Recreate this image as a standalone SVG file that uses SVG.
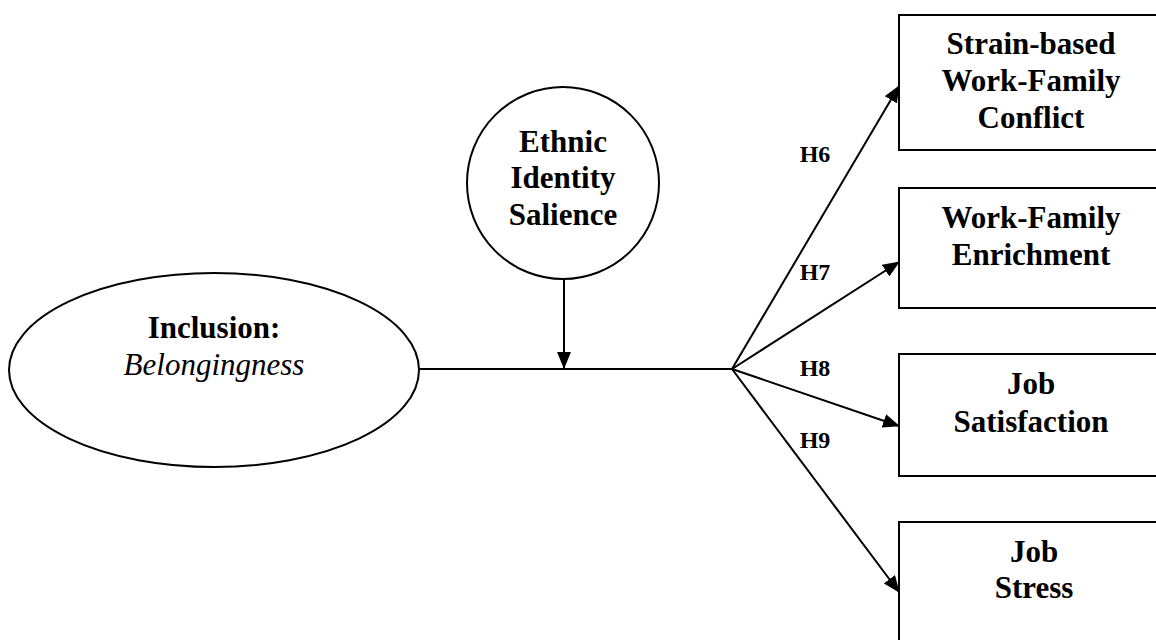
<svg xmlns="http://www.w3.org/2000/svg" width="1156" height="640" viewBox="0 0 1156 640">
<style>
.shape{fill:#fff;stroke:#000;stroke-width:2}
.conn{stroke:#000;stroke-width:2;fill:none}
.t{font-family:"Liberation Serif","Times New Roman",serif;font-weight:bold;font-size:31px;text-anchor:middle;fill:#000}
.ti{font-family:"Liberation Serif","Times New Roman",serif;font-style:italic;font-size:31px;text-anchor:middle;fill:#000}
.lbl{font-family:"Liberation Serif","Times New Roman",serif;font-weight:bold;font-size:24px;text-anchor:middle;fill:#000}
</style>
<defs>
<marker id="arr" markerWidth="17" markerHeight="14" refX="16" refY="7" orient="auto" markerUnits="userSpaceOnUse">
<path d="M0,0 L17,7 L0,14 Z" fill="#000"/>
</marker>
</defs>
<rect width="1156" height="640" fill="#fff"/>
<g id="inclusion">
<ellipse class="shape" cx="214" cy="370" rx="205" ry="97"/>
<text class="t" x="214" y="338">Inclusion:</text>
<text class="ti" x="214" y="375">Belongingness</text>
</g>
<g id="ethnic">
<circle class="shape" cx="563" cy="183" r="96"/>
<text class="t" x="563" y="152">Ethnic</text>
<text class="t" x="563" y="188">Identity</text>
<text class="t" x="563" y="225">Salience</text>
</g>
<g id="strain">
<rect class="shape" x="899" y="15" width="270" height="135"/>
<text class="t" x="1031" y="54">Strain-based</text>
<text class="t" x="1031" y="91">Work-Family</text>
<text class="t" x="1031" y="128">Conflict</text>
</g>
<g id="enrichment">
<rect class="shape" x="899" y="188" width="270" height="120"/>
<text class="t" x="1031" y="228">Work-Family</text>
<text class="t" x="1031" y="265">Enrichment</text>
</g>
<g id="satisfaction">
<rect class="shape" x="899" y="354" width="270" height="122"/>
<text class="t" x="1031" y="394">Job</text>
<text class="t" x="1031" y="432">Satisfaction</text>
</g>
<g id="stress">
<rect class="shape" x="899" y="522" width="270" height="140"/>
<text class="t" x="1034" y="562">Job</text>
<text class="t" x="1034" y="598">Stress</text>
</g>
<g id="connectors">
<line class="conn" x1="419" y1="369" x2="732" y2="369"/>
<line class="conn" x1="564" y1="279" x2="564" y2="368" marker-end="url(#arr)"/>
<line class="conn" x1="732" y1="369" x2="899" y2="86" marker-end="url(#arr)"/>
<line class="conn" x1="732" y1="369" x2="899" y2="262" marker-end="url(#arr)"/>
<line class="conn" x1="732" y1="369" x2="899" y2="426" marker-end="url(#arr)"/>
<line class="conn" x1="732" y1="369" x2="899" y2="592" marker-end="url(#arr)"/>
<text class="lbl" x="815" y="162">H6</text>
<text class="lbl" x="815" y="280">H7</text>
<text class="lbl" x="815" y="376">H8</text>
<text class="lbl" x="815" y="448">H9</text>
</g>
</svg>
